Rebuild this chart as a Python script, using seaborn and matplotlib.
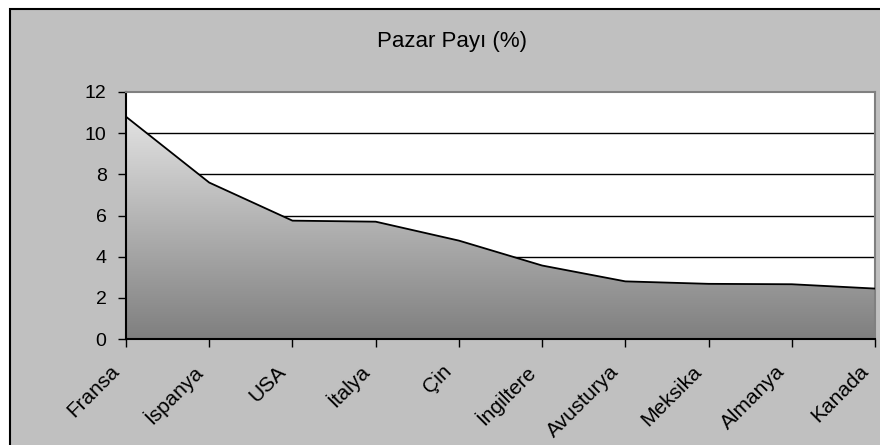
import numpy as np
import seaborn as sns
import matplotlib.pyplot as plt
import matplotlib.transforms as mtransforms
from matplotlib.patches import Rectangle
from matplotlib.colors import LinearSegmentedColormap

countries = ['Fransa', 'İspanya', 'USA', 'İtalya', 'Çin', 'İngiltere',
             'Avusturya', 'Meksika', 'Almanya', 'Kanada']
share = [10.8, 7.6, 5.75, 5.7, 4.78, 3.57, 2.8, 2.68, 2.66, 2.45]
y_ticks = [0, 2, 4, 6, 8, 10, 12]

sns.set_style('white')
plt.rcParams['font.family'] = ['Liberation Sans', 'DejaVu Sans']
plt.rcParams['text.color'] = 'black'

fig = plt.figure(figsize=(8.8, 4.45), dpi=100)
fig.patch.set_facecolor('white')
# grey chart area with black frame (runs off the right/bottom edge)
fig.patches.append(Rectangle((10 / 880, -0.05), 1.0, 1 - 9 / 445 + 0.05,
                             transform=fig.transFigure, facecolor='#c0c0c0',
                             edgecolor='black', linewidth=1.5, zorder=-5))

ax = fig.add_axes([126 / 880, 1 - 339 / 445, 749 / 880, 247 / 445])
ax.set_facecolor('white')

x = np.arange(len(countries))
for yv in y_ticks[1:-1]:
    ax.axhline(yv, color='black', linewidth=1, zorder=1)

poly = ax.fill_between(x, share, 0, facecolor='none', edgecolor='none', zorder=2)
cmap = LinearSegmentedColormap.from_list('g', ['#7f7f7f', '#e2e2e2'])
grad = np.linspace(0, 1, 256).reshape(-1, 1)
img = ax.imshow(grad, cmap=cmap, aspect='auto', origin='lower',
                extent=[0, len(countries) - 1, 0, max(share)], zorder=2)
img.set_clip_path(poly.get_paths()[0], transform=ax.transData)

sns.lineplot(x=x, y=share, color='black', linewidth=1.3, ax=ax, zorder=3)

ax.set_xlim(0, len(countries) - 1)
ax.set_ylim(0, 12)
ax.set_yticks(y_ticks)
ax.set_xticks(x)
ax.set_xticklabels(countries, rotation=45, ha='right', va='center',
                   rotation_mode='anchor', fontsize=15)
ax.tick_params(axis='y', labelsize=14, pad=8)
ax.tick_params(axis='both', direction='out', length=6, width=1, color='black',
               labelcolor='black', left=True, bottom=True)
ax.tick_params(axis='x', pad=3)
shift = mtransforms.ScaledTranslation(-10 / 100, -17 / 100, fig.dpi_scale_trans)
for lab in ax.get_xticklabels():
    lab.set_transform(lab.get_transform() + shift)
for s in ['left', 'bottom']:
    ax.spines[s].set_color('black')
    ax.spines[s].set_linewidth(1.5)
for s in ['top', 'right']:
    ax.spines[s].set_color('#808080')
    ax.spines[s].set_linewidth(1.5)

fig.text(452 / 880, 1 - 42 / 445, 'Pazar Payı (%)', ha='center', va='center',
         fontsize=16, color='black')

fig.savefig('out.png', dpi=100)
